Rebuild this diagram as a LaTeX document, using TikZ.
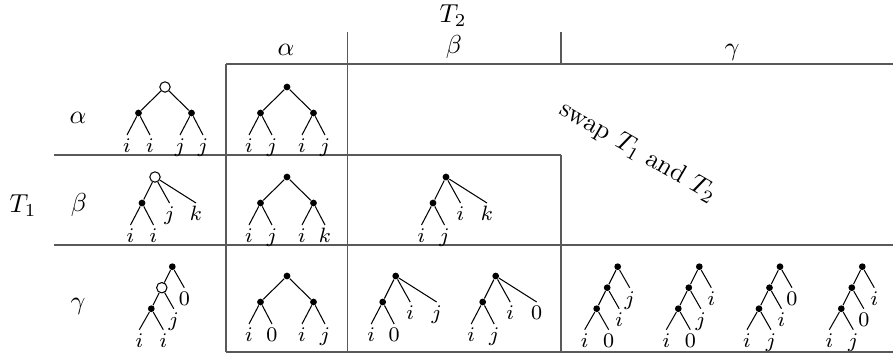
\documentclass[tikz,border=0pt]{standalone}
\usepackage{amsmath,amssymb}
\usepackage{tikz}
\usetikzlibrary{positioning}
\tikzset{
  % table
  rule/.style={draw=black!65,line width=0.45pt},
  hd/.style={anchor=base,inner sep=0pt},
  % trees
  br/.style={draw=black,line width=0.4pt},
  dot/.style={circle,fill=black,inner sep=0pt,minimum size=2.6pt},
  hole/.style={circle,draw=black,fill=white,line width=0.4pt,inner sep=0pt,
               minimum size=4pt},
  lf/.style={anchor=north,font=\footnotesize,inner sep=0.8pt,
             text height=5.8pt,text depth=1.6pt},
}
% binary tree: name, root, root style, four leaves
\newcommand{\bintree}[7]{%
  \begin{scope}[shift={(#2)},name prefix=#1-]
    \node[#3] (r) at (0,0) {};
    \node[dot] (a) at (-26.5,26) {};
    \node[dot] (b) at (26.5,26) {};
    \node[lf] (l1) at (-38,48) {$#4$};
    \node[lf] (l2) at (-15,48) {$#5$};
    \node[lf] (l3) at (15,48) {$#6$};
    \node[lf] (l4) at (38,48) {$#7$};
    \draw[br] (r) -- (a) (r) -- (b);
    \draw[br] (a) -- (l1.north) (a) -- (l2.north) (b) -- (l3.north) (b) -- (l4.north);
  \end{scope}}
% three children: name, root, root style, two low leaves, middle, right
\newcommand{\tritree}[7]{%
  \begin{scope}[shift={(#2)},name prefix=#1-]
    \node[#3] (r) at (0,0) {};
    \node[dot] (a) at (-13,26) {};
    \node[lf] (l1) at (-24.5,48) {$#4$};
    \node[lf] (l2) at (-1.5,48) {$#5$};
    \node[lf] (l3) at (14.5,26) {$#6$};
    \node[lf] (l4) at (41,26) {$#7$};
    \draw[br] (r) -- (a) (a) -- (l1.north) (a) -- (l2.north);
    \draw[br] (r) -- (l3.north) (r) -- (l4.north);
  \end{scope}}
% chain: name, root, middle style, two low leaves, middle leaf, top leaf
\newcommand{\chaintree}[7]{%
  \begin{scope}[shift={(#2)},name prefix=#1-]
    \node[dot] (r) at (0,0) {};
    \node[#3] (b) at (-10.5,21) {};
    \node[dot] (c) at (-21,42) {};
    \node[lf] (l1) at (-33,63) {$#4$};
    \node[lf] (l2) at (-9,63) {$#5$};
    \node[lf] (l3) at (1.5,42) {$#6$};
    \node[lf] (l4) at (12,21) {$#7$};
    \draw[br] (r) -- (b) (b) -- (c) (c) -- (l1.north) (c) -- (l2.north);
    \draw[br] (b) -- (l3.north) (r) -- (l4.north);
  \end{scope}}

\begin{document}
\begin{tikzpicture}[x=0.385pt,y=-0.385pt]
  \useasboundingbox (0,0) rectangle (893,356);
  % rules
  \draw[rule] (226,64) -- (893,64);
  \draw[rule] (54,155) -- (561,155);
  \draw[rule] (54,245) -- (893,245);
  \draw[rule] (226,352) -- (893,352);
  \draw[rule] (226,64) -- (226,352);
  \draw[rule] (347.7,32) -- (347.7,352);
  \draw[rule] (561,32) -- (561,64) (561,155) -- (561,352);
  % labels
  \node (T2) at (453,16) {$T_2$};
  \node (T1) at (23,206) {$T_1$};
  \node[hd] (ha) at (286,55) {$\alpha$};
  \node[hd] (hb) at (454,53) {$\beta$};
  \node[hd] (hc) at (732,55) {$\gamma$};
  \node[hd] (va) at (78,123) {$\alpha$};
  \node[hd] (vb) at (79,211) {$\beta$};
  \node[hd] (vc) at (78,309) {$\gamma$};
  \node[rotate=-30] (swap) at (638,152) {swap $T_1$ and $T_2$};
  % trees
  \bintree{aL}{165,87}{hole}{i}{i}{j}{j}
  \bintree{aa}{287,87}{dot}{i}{j}{i}{j}
  \tritree{bL}{155,177}{hole}{i}{i}{j}{k}
  \bintree{ba}{287,177}{dot}{i}{j}{i}{k}
  \tritree{bb}{446,177}{dot}{i}{j}{i}{k}
  \chaintree{cL}{172.3,266.7}{hole}{i}{i}{j}{0}
  \bintree{ca}{287,276}{dot}{i}{0}{i}{j}
  \tritree{cb1}{395.7,276}{dot}{i}{0}{i}{j}
  \tritree{cb2}{495.7,276}{dot}{i}{j}{i}{0}
  \chaintree{cc1}{617.7,266.7}{dot}{i}{0}{i}{j}
  \chaintree{cc2}{699.3,266.7}{dot}{i}{0}{j}{i}
  \chaintree{cc3}{780,266.7}{dot}{i}{j}{i}{0}
  \chaintree{cc4}{862.3,266.7}{dot}{i}{j}{0}{i}
\end{tikzpicture}
\end{document}
